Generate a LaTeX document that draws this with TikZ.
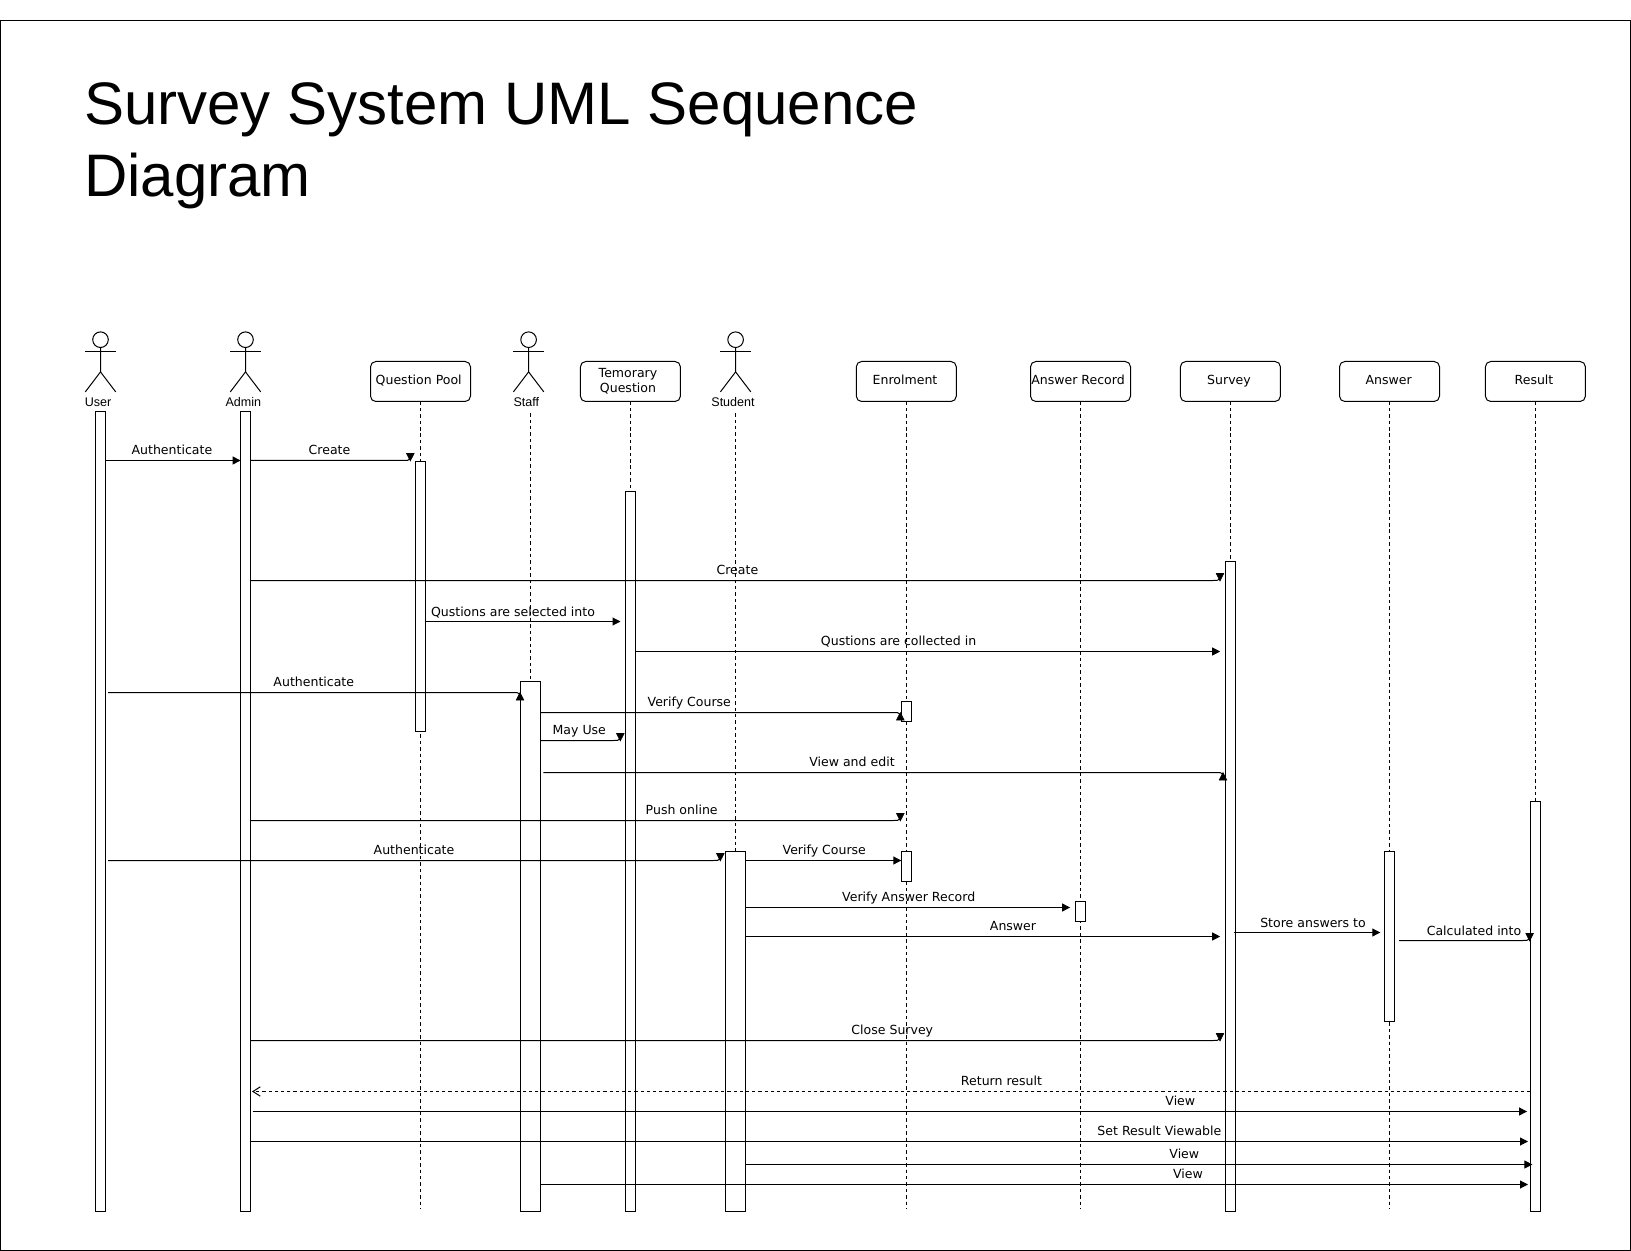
\documentclass[tikz,border=0pt]{standalone}
\usepackage{fontspec}
\setmainfont{DejaVu Sans}
\newfontfamily\actorfont{Liberation Sans}
\usetikzlibrary{arrows.meta}
\tikzset{
  wire/.style={line width=0.75pt,black,line cap=butt},
  msg/.style={wire,-{Triangle[length=6pt,width=6pt]}},
  head/.style={fill=black,draw=black,line width=0.4pt,line join=miter},
  reply/.style={wire,dash pattern=on 2.4pt off 2.25pt,-{Straight Barb[length=5.5pt,width=7pt]}},
  life/.style={wire,dash pattern=on 2.6pt off 2.2pt},
  barbox/.style={draw,fill=white,line width=0.75pt,inner sep=0pt,outer sep=0pt,anchor=north west},
  objbox/.style={draw,fill=white,line width=0.75pt,rounded corners=4pt,inner sep=0pt,outer sep=0pt,minimum width=75pt,minimum height=30pt,anchor=north west},
  boxtext/.style={font=\fontsize{9.4}{11}\selectfont,inner sep=0pt,anchor=center},
  msgtext/.style={font=\fontsize{9.4}{11}\selectfont,inner sep=0pt,anchor=base},
  actortext/.style={font=\actorfont\fontsize{9.4}{11}\selectfont,inner sep=0pt,anchor=base},
}
% bar: name, x1, y1, x2, y2
\newcommand{\barnode}[5]{\node[barbox,minimum width={(#4-#2)*0.75pt},minimum height={(#5-#3)*0.75pt}] (#1) at (#2,#3) {};}
% object box: name, x, text, text x
\newcommand{\objnode}[4]{\node[objbox] (#1) at (#2,360.3) {}; \node[boxtext,align=center] (#1t) at (#4,380) {#3};}
% actor: name, cx, label, label x
\newcommand{\actornode}[4]{%
  \draw[wire] (#2,338.5) circle[radius=7.8];
  \draw[wire] (#2,346.3) -- (#2,370.7) -- (#2-15.2,390.7);
  \draw[wire] (#2,370.7) -- (#2+15.2,390.7);
  \draw[wire] (#2-15.2,350.3) -- (#2+15.2,350.3);
  \node[actortext] (#1) at (#4,405) {#3};}
% label
\newcommand{\lab}[4]{\node[msgtext] (#1) at (#2,#3+4.1) {#4};}
% kinked arrows: start, tip x, y
\newcommand{\kdown}[3]{%
  \draw[wire] (#1) -- (#2-7,#3) .. controls (#2-3,#3) and (#2-1.5,#3) .. (#2,#3-2);
  \draw[head] (#2-3.8,#3-7) -- (#2+3.8,#3-7) -- (#2,#3+0.5) -- cycle;}
\newcommand{\kup}[3]{%
  \draw[wire] (#1) -- (#2-7,#3) .. controls (#2-3,#3) and (#2-1.5,#3) .. (#2,#3+2);
  \draw[head] (#2-3.8,#3+7.5) -- (#2+3.8,#3+7.5) -- (#2,#3) -- cycle;}
\begin{document}
\begin{tikzpicture}[x=0.75pt,y=-0.75pt]
\useasboundingbox (0,0) rectangle (1631,1251);
\draw[wire] (0.5,20.5) rectangle (1630.5,1250.9);
\begin{scope}[yshift=-0.9pt]
\node[inner sep=0pt,anchor=north west,align=left,font=\actorfont\fontsize{45}{54}\selectfont] (title) at (84,81.4) {Survey System UML Sequence\\Diagram};

% dashed lifelines (objects)
\objnode{qpool}{370.5}{Question Pool\vphantom{lgy}}{418.7}
\objnode{tempq}{580.4}{Temorary\\Question}{628}
\objnode{enrol}{856.3}{Enrolment\vphantom{lgy}}{905}
\objnode{arec}{1030.5}{Answer Record\vphantom{lgy}}{1078}
\objnode{surv}{1180.4}{Survey\vphantom{lgy}}{1229}
\objnode{answ}{1339.5}{Answer\vphantom{lgy}}{1388.6}
\objnode{resu}{1485.4}{Result\vphantom{lgy}}{1534}

\coordinate (staffTop) at (530.4,412);
\coordinate (studTop) at (735.6,412);
\coordinate (qEnd) at (420.3,1207.5);
\coordinate (eEnd) at (906.5,1207.5);
\coordinate (rEnd) at (1080.5,1207.5);
\coordinate (aEnd) at (1389.5,1207.5);
\coordinate (qTop) at (420.3,400.3);
\coordinate (tTop) at (630.7,400.3);
\coordinate (eTop) at (906.5,400.3);
\coordinate (rTop) at (1080.5,400.3);
\coordinate (sTop) at (1230.4,400.3);
\coordinate (aTop) at (1389.5,400.3);
\coordinate (zTop) at (1535.4,400.3);
\draw[life] (qTop) -- (qEnd);
\draw[life] (tTop) -- (630.7,490.3);
\draw[life] (eTop) -- (eEnd);
\draw[life] (rTop) -- (rEnd);
\draw[life] (sTop) -- (1230.4,560.4);
\draw[life] (aTop) -- (aEnd);
\draw[life] (zTop) -- (1535.4,800.3);
\draw[life] (staffTop) -- (530.4,680.3);
\draw[life] (studTop) -- (735.6,850.3);

% actors
\actornode{user}{100.5}{User}{98}
\actornode{admin}{245.5}{Admin}{243.3}
\actornode{staff}{528.6}{Staff}{526.3}
\actornode{stud}{735.6}{Student}{733}

% activation bars
\barnode{ubar}{95.5}{410.3}{105.4}{1210.3}
\barnode{abar}{240.6}{410.3}{250.4}{1210.3}
\barnode{qbar}{415.5}{460.3}{425.4}{730.3}
\barnode{sfbar}{520.3}{680.3}{540.7}{1210.3}
\barnode{tbar}{625.7}{490.3}{635.7}{1210.3}
\barnode{stbar}{725.3}{850.3}{745.7}{1210.3}
\barnode{ebar}{901.3}{700.3}{911.7}{720.7}
\barnode{ebarb}{901.3}{850.3}{911.7}{880.7}
\barnode{rbar}{1075.3}{900.3}{1085.7}{920.3}
\barnode{sbar}{1225.4}{560.4}{1235.4}{1210.3}
\barnode{anbar}{1384.3}{850.3}{1394.8}{1020.3}
\barnode{zbar}{1530.4}{800.3}{1540.4}{1210.3}

% message levels
\coordinate (l1) at (0,459.3);
\coordinate (l2) at (0,579.3);
\coordinate (l3) at (0,620.3);
\coordinate (l4) at (0,650.3);
\coordinate (l5) at (0,691.3);
\coordinate (l6) at (0,711.3);
\coordinate (l7) at (0,739.3);
\coordinate (l8) at (0,771.3);
\coordinate (l9) at (0,819.3);
\coordinate (l10) at (0,859.3);
\coordinate (l11) at (0,906.3);
\coordinate (l12) at (0,935.3);
\coordinate (l13) at (0,931.3);
\coordinate (l14) at (0,939.3);
\coordinate (l15) at (0,1039.3);
\coordinate (l16) at (0,1090.3);
\coordinate (l17) at (0,1110.3);
\coordinate (l18) at (0,1140.3);
\coordinate (l19) at (0,1163.3);
\coordinate (l20) at (0,1183.3);
\coordinate (fa) at (108,691.3);
\coordinate (fb) at (108,859.3);
\coordinate (fc) at (543.3,771.3);
\coordinate (fd) at (1234.2,931.3);
\coordinate (fe) at (1399.2,939.3);
\coordinate (ff) at (252.7,1110.3);
\coordinate (fg) at (252,1090.3);

% messages
\draw[msg] (ubar.east |- l1) -- (abar.west |- l1);
\lab{m1}{171.9}{449.7}{Authenticate}
\kdown{abar.east |- l1}{410.3}{459.3}
\lab{m2}{329.5}{449.7}{Create}
\kdown{abar.east |- l2}{1220}{579.3}
\lab{m3}{737.4}{569}{Create}
\draw[msg,shorten >=3.9pt] (qbar.east |- l3) -- (tbar.west |- l3);
\lab{m4}{513}{610.7}{Qustions are selected into}
\draw[msg,shorten >=3.9pt] (tbar.east |- l4) -- (sbar.west |- l4);
\lab{m5}{898.6}{640.6}{Qustions are collected in}
\kup{fa}{520}{691.3}
\lab{m6}{313.8}{681.3}{Authenticate}
\kup{sfbar.east |- l6}{900.3}{711.3}
\lab{m7}{689.3}{701.3}{Verify Course}
\kdown{sfbar.east |- l7}{620.3}{739.3}
\lab{m8}{579.3}{729.3}{May Use}
\kup{fc}{1223}{771.3}
\lab{m9}{852}{761.3}{View and edit}
\kdown{abar.east |- l9}{900.3}{819.3}
\lab{m10}{681.7}{809.3}{Push online}
\kdown{fb}{720.3}{859.3}
\lab{m11}{414}{849.3}{Authenticate}
\draw[msg] (stbar.east |- l10) -- (ebarb.west |- l10);
\lab{m12}{824.3}{849.3}{Verify Course}
\draw[msg,shorten >=3.9pt] (stbar.east |- l11) -- (rbar.west |- l11);
\lab{m13}{908.7}{896.3}{Verify Answer Record}
\draw[msg,shorten >=3.9pt] (stbar.east |- l12) -- (sbar.west |- l12);
\lab{m14}{1013}{925.5}{Answer}
\draw[msg,shorten >=3pt] (fd) -- (anbar.west |- l13);
\lab{m15}{1313}{921.7}{Store answers to}
\kdown{fe}{1529.6}{939.3}
\lab{m16}{1474}{929.7}{Calculated into}
\kdown{abar.east |- l15}{1220}{1039.3}
\lab{m17}{892.3}{1029.6}{Close Survey}
\draw[reply] (zbar.west |- l16) -- (fg);
\lab{m18}{1001.5}{1080.6}{Return result}
\draw[msg,shorten >=2.5pt] (ff) -- (zbar.west |- l17);
\lab{m19}{1180.3}{1100.3}{View}
\draw[msg,shorten >=1.8pt] (abar.east |- l18) -- (zbar.west |- l18);
\lab{m20}{1159.4}{1130.3}{Set Result Viewable}
\draw[msg,shorten >=-1.5pt] (stbar.east |- l19) -- (zbar.west |- l19);
\lab{m21}{1184.3}{1153.3}{View}
\draw[msg,shorten >=1.8pt] (sfbar.east |- l20) -- (zbar.west |- l20);
\lab{m22}{1188}{1173.3}{View}
\end{scope}
\end{tikzpicture}
\end{document}
